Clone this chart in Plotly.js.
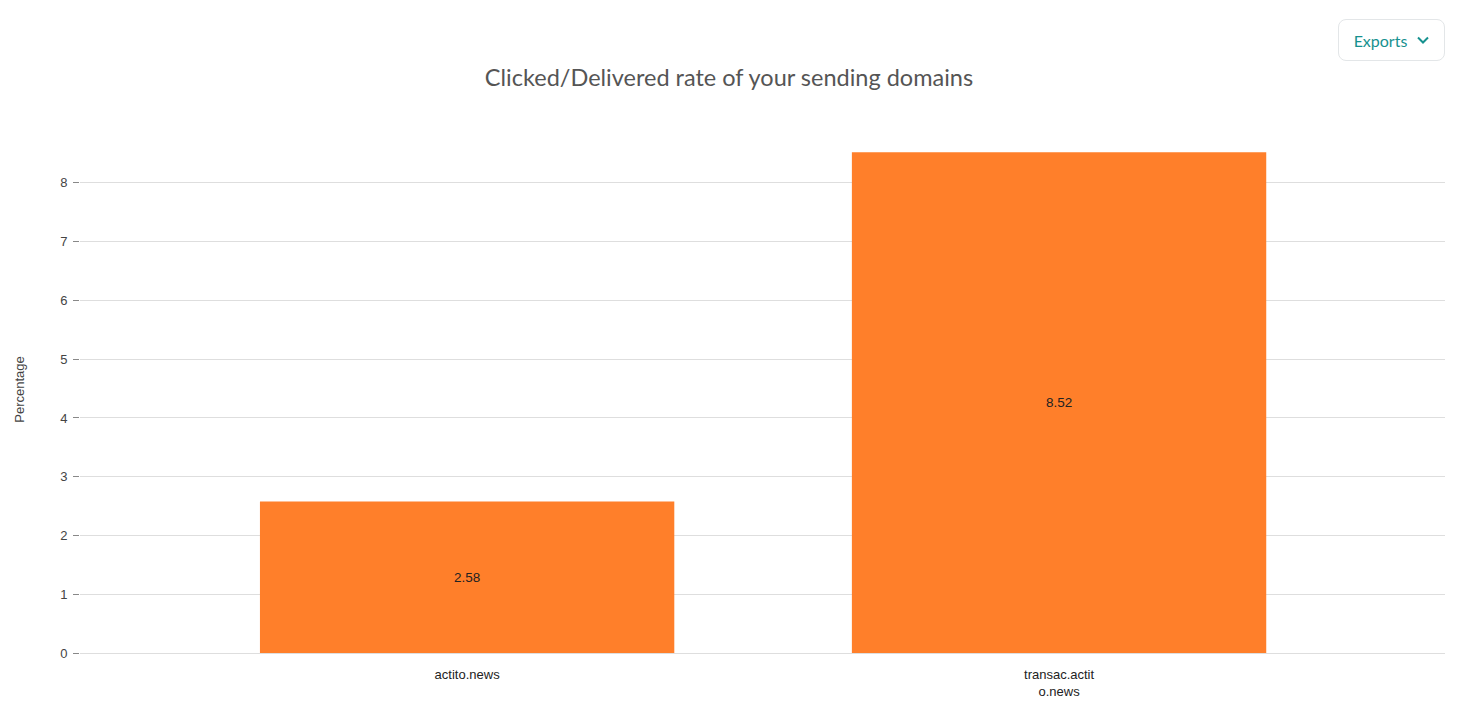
<!DOCTYPE html>
<html>
<head>
<meta charset="utf-8">
<script src="https://cdn.plot.ly/plotly-3.0.1.min.js"></script>
<style>
  html, body { margin: 0; padding: 0; background: #fff; }
  #chart { width: 1458px; height: 703px; }
  #exports {
    position: absolute; left: 1338px; top: 19px; width: 107px; height: 42px;
    box-sizing: border-box; border: 1px solid #e3e6e8; border-radius: 8px; background: #fff;
    font-family: Lato, "Open Sans", sans-serif; font-size: 16px; color: #16918f;
    display: flex; align-items: center; justify-content: center; gap: 10px; z-index: 10;
  }
  #exports svg { width: 12px; height: 8px; }
</style>
</head>
<body>
<div id="exports"><span>Exports</span><svg viewBox="0 0 12 8"><polyline points="1,1.5 6,6.5 11,1.5" fill="none" stroke="#16918f" stroke-width="2"/></svg></div>
<div id="chart"></div>
<script>
const categories = ["actito.news", "transac.actito.news"];
const tickLabels = ["actito.news", "transac.actit<br>o.news"];
const values = [2.58, 8.52];
const valueLabels = ["2.58", "8.52"];

const trace = {
  type: 'bar',
  x: categories,
  y: values,
  text: valueLabels,
  textposition: 'inside',
  insidetextanchor: 'middle',
  textfont: { family: 'Arial, "Liberation Sans", sans-serif', size: 13.5, color: '#222' },
  marker: { color: '#ff7f2a' },
  hoverinfo: 'x+y'
};

const layout = {
  width: 1458, height: 703,
  margin: { l: 80, r: 13, t: 126, b: 50 },
  paper_bgcolor: '#fff', plot_bgcolor: '#fff',
  title: {
    text: 'Clicked/Delivered rate of your sending domains',
    font: { family: 'Lato, "Open Sans", sans-serif', size: 23.5, color: '#555' },
    x: 0.5, xanchor: 'center', y: 0.89, yanchor: 'middle'
  },
  bargap: 0.3,
  showlegend: false,
  xaxis: {
    type: 'category',
    tickvals: categories,
    ticktext: tickLabels,
    range: [-0.654, 1.652],
    showgrid: false,
    zeroline: false,
    ticks: 'outside', ticklen: 9, tickcolor: 'rgba(0,0,0,0)',
    tickfont: { family: 'Arial, "Liberation Sans", sans-serif', size: 13, color: '#222' }
  },
  yaxis: {
    title: { text: 'Percentage', font: { family: 'Arial, "Liberation Sans", sans-serif', size: 13, color: '#444' }, standoff: 32 },
    range: [0, 8.968],
    dtick: 1,
    showgrid: true, gridcolor: '#dedede',
    zeroline: true, zerolinecolor: '#dedede',
    ticks: 'outside', ticklen: 6, tickcolor: '#888',
    ticklabelstandoff: 3,
    tickfont: { family: 'Arial, "Liberation Sans", sans-serif', size: 13, color: '#444' }
  }
};

Plotly.newPlot('chart', [trace], layout, { displayModeBar: false, responsive: false });
</script>
</body>
</html>
